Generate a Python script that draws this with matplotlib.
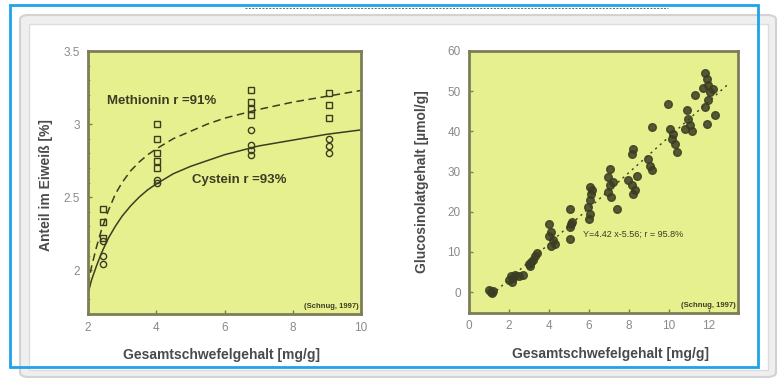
import matplotlib
matplotlib.use("Agg")
import matplotlib.pyplot as plt
from matplotlib.patches import FancyBboxPatch, Rectangle
from matplotlib.lines import Line2D
from matplotlib.ticker import MultipleLocator

plt.rcParams['font.family'] = ['Liberation Sans', 'DejaVu Sans']

# ---------------- data: left chart ----------------
met_curve_x = [2.0, 2.1, 2.25, 2.4, 2.6, 2.8, 3.0, 3.25, 3.5, 3.75, 4.0, 4.5, 5.0, 5.5, 6.0, 7.0, 8.0, 9.0, 10.0]
met_curve_y = [1.90, 2.02, 2.16, 2.28, 2.41, 2.52, 2.60, 2.68, 2.74, 2.79, 2.83, 2.90, 2.95, 3.00, 3.04, 3.10, 3.15, 3.19, 3.23]
cys_curve_x = [2.0, 2.1, 2.25, 2.4, 2.6, 2.8, 3.0, 3.25, 3.5, 3.75, 4.0, 4.5, 5.0, 5.5, 6.0, 7.0, 8.0, 9.0, 10.0]
cys_curve_y = [1.84, 1.93, 2.03, 2.12, 2.22, 2.30, 2.37, 2.44, 2.50, 2.55, 2.59, 2.66, 2.71, 2.75, 2.79, 2.85, 2.89, 2.93, 2.96]

met_x = [2.45, 2.45, 2.45, 4.02, 4.02, 4.02, 4.02, 4.02, 6.78, 6.78, 6.78, 6.78, 9.05, 9.05, 9.05]
met_y = [2.42, 2.33, 2.22, 3.00, 2.90, 2.80, 2.75, 2.70, 3.23, 3.15, 3.10, 3.06, 3.21, 3.13, 3.04]
cys_x = [2.45, 2.45, 2.45, 4.02, 4.02, 6.78, 6.78, 6.78, 6.78, 9.05, 9.05, 9.05]
cys_y = [2.20, 2.10, 2.04, 2.62, 2.60, 2.96, 2.86, 2.82, 2.79, 2.90, 2.85, 2.80]

left_xticks = [2, 4, 6, 8, 10]
left_xticklabels = ["2", "4", "6", "8", "10"]
left_yticks = [2, 2.5, 3, 3.5]
left_yticklabels = ["2", "2.5", "3", "3.5"]

# ---------------- data: right chart ----------------
glu_x = [1.0, 1.1, 1.2, 1.15,
         2.0, 2.1, 2.2, 2.3, 2.5, 2.7, 2.15,
         3.0, 3.1, 3.2, 3.3, 3.4, 3.05,
         4.0, 4.1, 4.2, 4.1, 4.3, 4.0,
         5.05, 5.1, 5.05, 5.05, 5.15,
         6.05, 6.1, 6.05, 5.97, 6.05, 6.0, 6.15,
         7.05, 6.97, 7.05, 6.97, 7.1, 7.38, 7.2,
         8.2, 8.13, 7.97, 8.13, 8.3, 8.2, 8.38,
         9.13, 8.97, 9.05, 9.13,
         9.97, 10.05, 10.2, 10.3, 10.38, 10.13,
         10.88, 10.97, 11.05, 10.8, 11.13,
         11.8, 11.88, 11.97, 11.72, 11.3, 12.05, 11.97, 11.8, 11.88, 12.3, 12.2]
glu_y = [0.5, 0.0, 0.2, -0.3,
         3.0, 4.0, 3.5, 4.2, 4.0, 4.3, 2.6,
         7.0, 7.5, 8.0, 9.0, 9.8, 6.6,
         17.0, 15.0, 13.0, 11.5, 12.0, 14.0,
         20.7, 17.0, 16.2, 13.3, 17.5,
         26.1, 24.5, 22.8, 21.2, 19.5, 18.3, 25.5,
         30.7, 28.6, 26.6, 24.9, 23.7, 20.7, 27.4,
         35.7, 34.4, 27.8, 26.6, 25.3, 24.5, 29.0,
         41.1, 33.2, 31.5, 30.3,
         46.7, 40.7, 39.4, 36.9, 34.9, 38.2,
         45.2, 43.2, 41.5, 40.7, 40.2,
         54.5, 53.1, 51.5, 50.9, 49.0, 49.8, 47.7, 46.1, 41.9, 44.0, 50.6]
reg_x = [1.38, 12.97]
reg_y = [0.4, 51.8]

right_xticks = [0, 2, 4, 6, 8, 10, 12]
right_xticklabels = ["0", "2", "4", "6", "8", "10", "12"]
right_yticks = [0, 10, 20, 30, 40, 50, 60]
right_yticklabels = ["0", "10", "20", "30", "40", "50", "60"]

# ---------------- figure ----------------
W, H = 783, 382
fig = plt.figure(figsize=(W / 100, H / 100), dpi=100)
fig.patch.set_facecolor("white")


def fx(px):
    return px / W


def fy(py):
    return 1 - py / H


# outer grey panel
fig.add_artist(FancyBboxPatch((fx(20), fy(377)), fx(776) - fx(20), fy(15) - fy(377),
                              boxstyle="round,pad=0,rounding_size=0.012",
                              transform=fig.transFigure, facecolor="#efefef",
                              edgecolor="#d2d2d2", linewidth=1.5, zorder=0))
fig.add_artist(Rectangle((fx(29), fy(370)), fx(768) - fx(29), fy(24) - fy(370),
                         transform=fig.transFigure, facecolor="white",
                         edgecolor="#dcdcdc", linewidth=1.0, zorder=0))
# blue frame
fig.add_artist(Rectangle((fx(10), fy(367)), fx(758) - fx(10), fy(5) - fy(367),
                         transform=fig.transFigure, facecolor="none",
                         edgecolor="#1ea3e8", linewidth=2.0, zorder=10))
# dashed line at top
fig.add_artist(Line2D([fx(245), fx(668)], [fy(8), fy(8)], transform=fig.transFigure,
                      color="#666666", linewidth=0.7, linestyle=(0, (2, 1.5)), zorder=10))

bg = "#e6f08e"
spine_c = "#7d7d5a"
dark = "#3b3d22"
tick_c = "#8a8a8a"

axL = fig.add_axes([fx(88), fy(314), fx(361) - fx(88), fy(51) - fy(314)])
axR = fig.add_axes([fx(469), fy(313), fx(738) - fx(469), fy(51) - fy(313)])

for ax in (axL, axR):
    ax.set_facecolor(bg)
    for s in ax.spines.values():
        s.set_color(spine_c)
        s.set_linewidth(2.0)
    ax.tick_params(direction="in", length=3, width=1, color=spine_c,
                   labelsize=8.5, labelcolor=tick_c)
    ax.tick_params(which="minor", direction="in", length=1.5, width=0.6, color=spine_c)

# left chart
axL.plot(met_curve_x, met_curve_y, color=dark, lw=1.1, ls=(0, (5, 3)))
axL.plot(cys_curve_x, cys_curve_y, color=dark, lw=1.1)
axL.plot(met_x, met_y, ls="none", marker="s", ms=5, mfc="none", mec=dark, mew=1.0)
axL.plot(cys_x, cys_y, ls="none", marker="o", ms=4.5, mfc="none", mec=dark, mew=1.0)
axL.set_xlim(2, 10)
axL.set_ylim(1.7, 3.5)
axL.set_xticks(left_xticks)
axL.set_xticklabels(left_xticklabels)
axL.set_yticks(left_yticks)
axL.set_yticklabels(left_yticklabels)
axL.yaxis.set_minor_locator(MultipleLocator(0.1))
axL.tick_params(axis="y", pad=6)
axL.tick_params(axis="x", pad=6)
axL.text(2.55, 3.16, "Methionin r =91%", fontsize=9.5, fontweight="bold", color=dark,
         va="center", ha="left")
axL.text(5.05, 2.62, "Cystein r =93%", fontsize=9.5, fontweight="bold", color=dark,
         va="center", ha="left")
axL.text(0.99, 0.015, "(Schnug, 1997)", transform=axL.transAxes, fontsize=5.5,
         fontweight="bold", color=dark, ha="right", va="bottom")
axL.set_xlabel("Gesamtschwefelgehalt [mg/g]", fontsize=10, fontweight="bold", color="#4a4a4a")
axL.xaxis.set_label_coords(0.49, -0.13)
axL.set_ylabel("Anteil im Eiweiß [%]", fontsize=10, fontweight="bold", color="#4a4a4a")
axL.yaxis.set_label_coords(-0.128, 0.49)

# right chart
axR.plot(reg_x, reg_y, color=dark, lw=1.0, ls=(0, (1.5, 3)))
axR.plot(glu_x, glu_y, ls="none", marker="o", ms=5.5, mfc=dark, mec=dark, alpha=0.85)
axR.set_xlim(0, 13.45)
axR.set_ylim(-5.2, 60)
axR.set_xticks(right_xticks)
axR.set_xticklabels(right_xticklabels)
axR.set_yticks(right_yticks)
axR.set_yticklabels(right_yticklabels)
axR.tick_params(axis="y", pad=6)
axR.tick_params(axis="x", pad=5)
axR.text(5.72, 14.5, "Y=4.42 x-5.56; r = 95.8%", fontsize=6.5, color=dark,
         va="center", ha="left")
axR.text(0.99, 0.015, "(Schnug, 1997)", transform=axR.transAxes, fontsize=5.5,
         fontweight="bold", color=dark, ha="right", va="bottom")
axR.set_xlabel("Gesamtschwefelgehalt [mg/g]", fontsize=10, fontweight="bold", color="#4a4a4a")
axR.xaxis.set_label_coords(0.525, -0.13)
axR.set_ylabel("Glucosinolatgehalt [µmol/g]", fontsize=10, fontweight="bold", color="#4a4a4a")
axR.yaxis.set_label_coords(-0.149, 0.5)

fig.savefig("out.png", dpi=100, facecolor="white")
